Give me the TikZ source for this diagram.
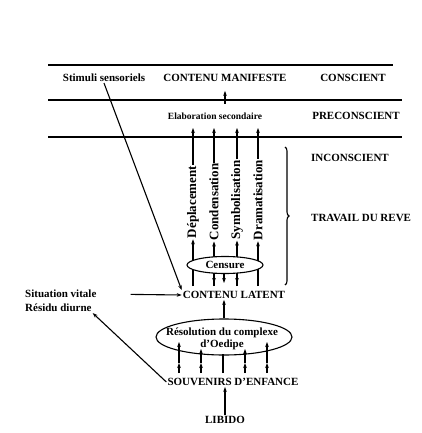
\documentclass[tikz,border=0pt]{standalone}
\usepackage{fontspec}
\setmainfont{Liberation Serif}
\usetikzlibrary{arrows.meta,shapes.geometric,decorations.pathreplacing}
\pgfdeclarelayer{bg}
\pgfsetlayers{bg,main}
\begin{document}
\begin{tikzpicture}[x=1pt,y=-1pt,
  txt/.style={inner sep=1pt, font=\bfseries\fontsize{11}{12}\selectfont},
  small/.style={inner sep=1pt, font=\bfseries\fontsize{9.5}{11}\selectfont},
  vlbl/.style={rotate=90, inner sep=1pt, font=\bfseries\fontsize{13}{14}\selectfont},
  tip/.style={-{Stealth[length=5pt,width=3.6pt]}},
  ln/.style={line width=1.1pt},
  level/.style={line width=1.5pt},
]
\useasboundingbox (0,0) rectangle (422,433);

% level lines
\coordinate (l1a) at (48,65);  \coordinate (l1b) at (393,65);
\coordinate (l2a) at (48,100); \coordinate (l2b) at (402,100);
\coordinate (l3a) at (48,137); \coordinate (l3b) at (402,137);
\draw[line width=1.9pt] (l1a) -- (l1b);
\draw[level] (l2a) -- (l2b);
\draw[level] (l3a) -- (l3b);

% texts
\node[txt] (stim)   at (104,78)  {Stimuli sensoriels};
\node[txt] (manif)  at (225,78)  {CONTENU MANIFESTE};
\node[txt] (consc)  at (353,78)  {CONSCIENT};
\node[small] (elab) at (215,116) {Elaboration secondaire};
\node[txt] (precon) at (356,116) {PRECONSCIENT};
\node[txt,anchor=west] (incon) at (310,158) {INCONSCIENT};
\node[txt,anchor=west] (trav)  at (310,218) {TRAVAIL DU REVE};

% rotated labels
\node[vlbl] (depl) at (193,202) {Déplacement};
\node[vlbl] (cond) at (214,202) {Condensation};
\node[vlbl] (symb) at (237,200) {Symbolisation};
\node[vlbl] (dram) at (258,200) {Dramatisation};

% censure
\node[draw, ellipse, ln, fill=white, minimum width=76pt, minimum height=17pt,
      inner sep=0pt, font=\bfseries\fontsize{11}{12}\selectfont] (cens) at (225,265) {Censure};

\node[txt] (lat) at (234,295) {CONTENU LATENT};
\node[txt,anchor=west] (sit) at (24,294) {Situation vitale};
\node[txt,anchor=west] (res) at (24,308) {Résidu diurne};

% oedipe
\node[draw, ellipse, ln, minimum width=136pt, minimum height=36pt, inner sep=0pt] (oed) at (224,337) {};
\node[txt, align=center, font=\bfseries\fontsize{11}{12}\selectfont] (oedt) at (222,339) {Résolution du complexe\\d'Oedipe};

\node[txt] (souv) at (233,382) {SOUVENIRS D'ENFANCE};
\node[txt] (lib)  at (225,420) {LIBIDO};

% coordinates for free ends
\coordinate (m0) at (225,104);
\foreach \n/\x in {1/193,2/214,3/237,4/258}{
  \coordinate (t\n) at (\x,128);
  \coordinate (b\n) at (\x,286);
}
\coordinate (br1) at (285,147);
\coordinate (br2) at (285,285);

% verticals through the censure (behind it)
\begin{pgfonlayer}{bg}
\draw[ln,tip] (b1) -- (depl.west);
\draw[ln,tip] (b2) -- (cond.west);
\draw[ln,tip] (b3) -- (symb.west);
\draw[ln,tip] (b4) -- (dram.west);
\end{pgfonlayer}
\draw[ln,tip] (depl.east) -- (t1);
\draw[ln,tip] (cond.east) -- (t2);
\draw[ln,tip] (symb.east) -- (t3);
\draw[ln,tip] (dram.east) -- (t4);

% small arrows below censure
\foreach \x in {214,224,237}{
  \coordinate (ca\x) at (\x,273);
  \coordinate (cb\x) at (\x,283);
  \draw[ln,tip] (ca\x) -- (cb\x);
}

% other connectors
\draw[ln,tip,shorten >=8pt] (m0) -- (manif.south);
\draw[ln,tip] (stim.south) -- (lat.north west);
\draw[ln,tip,shorten <=33pt] (sit.east) -- (lat.west);
\draw[ln,tip] (souv.west) -- (res.south east);
\draw[ln,tip] (oed.north) -- (oed.north |- lat.south);
\draw[ln,tip] (lib.north) -- (lib.north |- souv.south);
\draw[ln, decorate, decoration={brace, amplitude=4pt}] (br1) -- (br2);

% arrows between souvenirs and oedipe
\foreach \x/\top in {179/342,201/349,245/349,267/342}{
  \coordinate (sa\x) at (\x,373);
  \coordinate (sm\x) at (\x,363);
  \coordinate (st\x) at (\x,\top);
  \draw[ln,tip] (sa\x) -- (sm\x);
  \draw[ln,tip] (sm\x) -- (st\x);
}
\coordinate (sa223) at (223,373);
\coordinate (st223) at (223,354);
\draw[ln] (sa223) -- (st223);
\end{tikzpicture}
\end{document}
